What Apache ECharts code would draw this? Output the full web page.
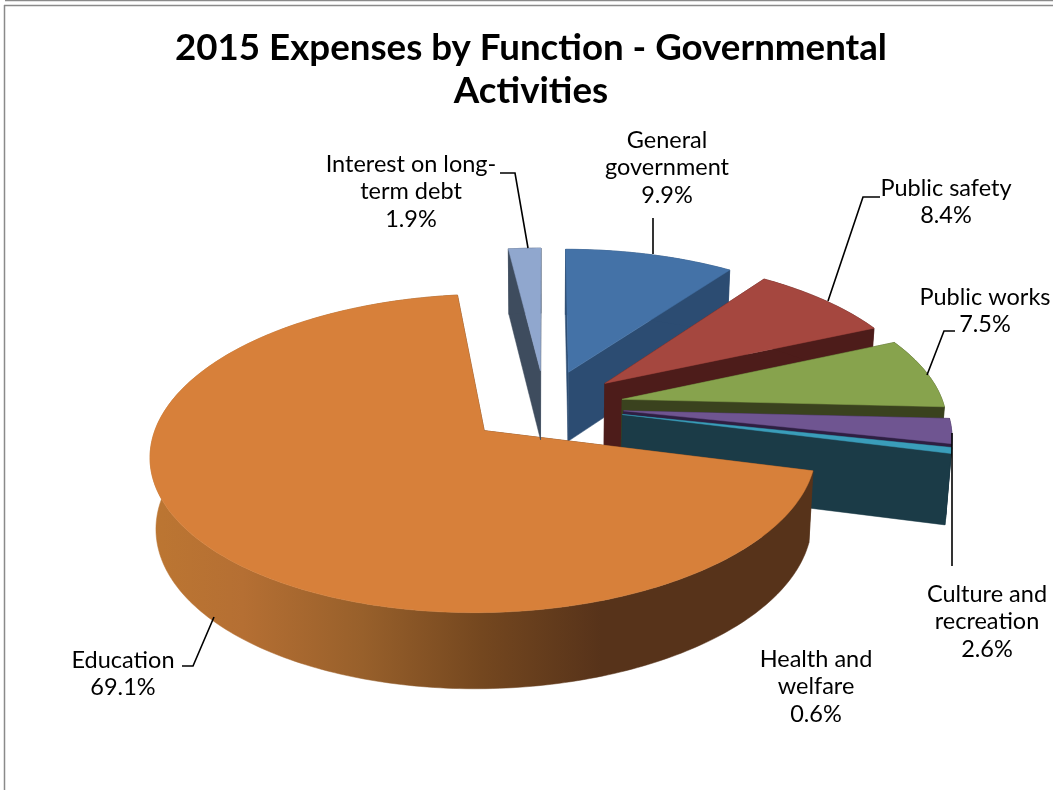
<!DOCTYPE html>
<html>
<head>
<meta charset="utf-8">
<style>html,body{margin:0;padding:0;background:#fff}#chart{width:1053px;height:790px}</style>
<script src="https://cdn.jsdelivr.net/npm/echarts@6/dist/echarts.min.js"></script>
</head>
<body>
<div id="chart"></div>
<script>
// Share of 2015 governmental expenses, in percent, clockwise from twelve o'clock
const functions = ['General government', 'Public safety', 'Public works', 'Culture and recreation', 'Health and welfare', 'Education', 'Interest on long-term debt'];
const shares = [9.9, 8.4, 7.5, 2.6, 0.6, 69.1, 1.9];
const labelLines = [['General', 'government'], ['Public safety'], ['Public works'], ['Culture and', 'recreation'], ['Health and', 'welfare'], ['Education'], ['Interest on long-', 'term debt']];

const topColors = ['#4472A7', '#A5473F', '#87A34D', '#6F5591', '#3A9DBA', '#D7803A', '#90A7CE'];
const sideColors = ['#2C4C72', '#4D1C1A', '#3A421E', '#2E1F42', '#1B3B47', '#57331A', '#3E4C5E'];

// Tilted-camera projection of the exploded disc
const view = { cx: 545, cy: 406, rx: 322, ry: 149, persp: 0.14, explode: 0.245, depth: 70, depthGrow: 0.45, floor: 0.985 };

function project(X, Y) {
  const s = 1 / (1 - view.persp * Y);
  return { x: view.cx + view.rx * X * s, y: view.cy + view.ry * Y * s, s };
}
const topPoint = (X, Y) => { const p = project(X, Y); return [p.x, p.y]; };
const floorPoint = (X, Y) => {
  const p = project(X, Y);
  return [view.cx + (p.x - view.cx) * view.floor, p.y + view.depth * (1 + (p.s - 1) * view.depthGrow)];
};

const rad = (deg) => deg * Math.PI / 180;

function educationWall() {
  return {
    type: 'linear', x: 0, y: 0, x2: 1, y2: 0,
    colorStops: [
      { offset: 0, color: '#BC7632' }, { offset: 0.14, color: '#B56F33' },
      { offset: 0.32, color: '#98602B' }, { offset: 0.5, color: '#74471F' },
      { offset: 0.68, color: '#57331A' }, { offset: 1, color: '#57331A' }
    ]
  };
}

function renderSlice(params, api) {
  const i = params.dataIndex;
  const before = shares.slice(0, i).reduce((a, b) => a + b, 0);
  const a0 = before * 3.6;
  const a1 = (before + api.value(0)) * 3.6;
  const mid = rad((a0 + a1) / 2);
  const ox = view.explode * Math.sin(mid);
  const oy = -view.explode * Math.cos(mid);

  const rim = [];
  const steps = Math.max(2, Math.ceil(a1 - a0));
  for (let k = 0; k <= steps; k++) {
    const t = rad(a0 + (a1 - a0) * k / steps);
    rim.push([ox + Math.sin(t), oy - Math.cos(t)]);
  }
  const first = rim[0], last = rim[rim.length - 1];
  const side = sideColors[i];
  const poly = (points, fill) => ({ type: 'polygon', shape: { points }, style: { fill, stroke: fill, lineWidth: 0.5 } });

  const children = [
    poly([topPoint(ox, oy), topPoint(first[0], first[1]), floorPoint(first[0], first[1]), floorPoint(ox, oy)], side),
    poly([topPoint(ox, oy), topPoint(last[0], last[1]), floorPoint(last[0], last[1]), floorPoint(ox, oy)], side),
    poly(rim.map(p => topPoint(p[0], p[1])).concat(rim.slice().reverse().map(p => floorPoint(p[0], p[1]))),
      functions[i] === 'Education' ? educationWall() : side),
    poly([topPoint(ox, oy)].concat(rim.map(p => topPoint(p[0], p[1]))), topColors[i])
  ];
  return { type: 'group', children };
}

// Label placement: centre x and the y of the first line
const labelAnchors = [[667, 140], [946, 188], [985, 297], [987, 594], [816, 659], [123, 660], [411, 164]];
const lineStep = 27.5;
const labelFont = '23.5px Lato, "Open Sans", sans-serif';

const labelGraphics = functions.map((name, i) => {
  const lines = labelLines[i].concat(shares[i].toFixed(1) + '%');
  return lines.map((text, n) => ({
    type: 'text', silent: true, z: 10,
    style: { text, x: labelAnchors[i][0], y: labelAnchors[i][1] + n * lineStep, font: labelFont, fill: '#000', align: 'center', verticalAlign: 'middle' }
  }));
}).flat();

// Leader lines from labels to their slices
const leaders = [
  [[653, 218], [653, 254]],
  [[880, 197], [863, 197], [828, 301]],
  [[955, 331], [944, 331], [927, 375]],
  [[500, 173], [515, 173], [528, 248]],
  [[952, 433], [952, 566]],
  [[182, 666], [193, 666], [214, 617]]
];
const leaderGraphics = leaders.map(points => ({
  type: 'polyline', silent: true, z: 9, shape: { points },
  style: { stroke: '#000', lineWidth: 1.6, fill: null }
}));

// Chart frame clipped by the top and left of the page
const frameGraphics = [
  { type: 'line', silent: true, shape: { x1: 5, y1: 0.5, x2: 1053, y2: 0.5 }, style: { stroke: '#8a8a8a', lineWidth: 1.5 } },
  { type: 'line', silent: true, shape: { x1: 4, y1: 5.5, x2: 1053, y2: 5.5 }, style: { stroke: '#8a8a8a', lineWidth: 1.5 } },
  { type: 'line', silent: true, shape: { x1: 4.5, y1: 5, x2: 4.5, y2: 790 }, style: { stroke: '#8a8a8a', lineWidth: 1.5 } }
];

const chart = echarts.init(document.getElementById('chart'), null, { renderer: 'canvas' });
chart.setOption({
  animation: false,
  backgroundColor: '#fff',
  title: {
    text: '2015 Expenses by Function - Governmental\nActivities',
    left: 526, top: 22, textAlign: 'center',
    textStyle: { fontFamily: 'Lato, "Open Sans", sans-serif', fontWeight: 'bold', fontSize: 36.7, lineHeight: 43, color: '#000' }
  },
  graphic: frameGraphics.concat(leaderGraphics, labelGraphics),
  series: [{
    type: 'custom',
    coordinateSystem: 'none',
    renderItem: renderSlice,
    silent: true,
    data: shares.map((v, i) => ({ name: functions[i], value: [v] }))
  }]
});
</script>
</body>
</html>
